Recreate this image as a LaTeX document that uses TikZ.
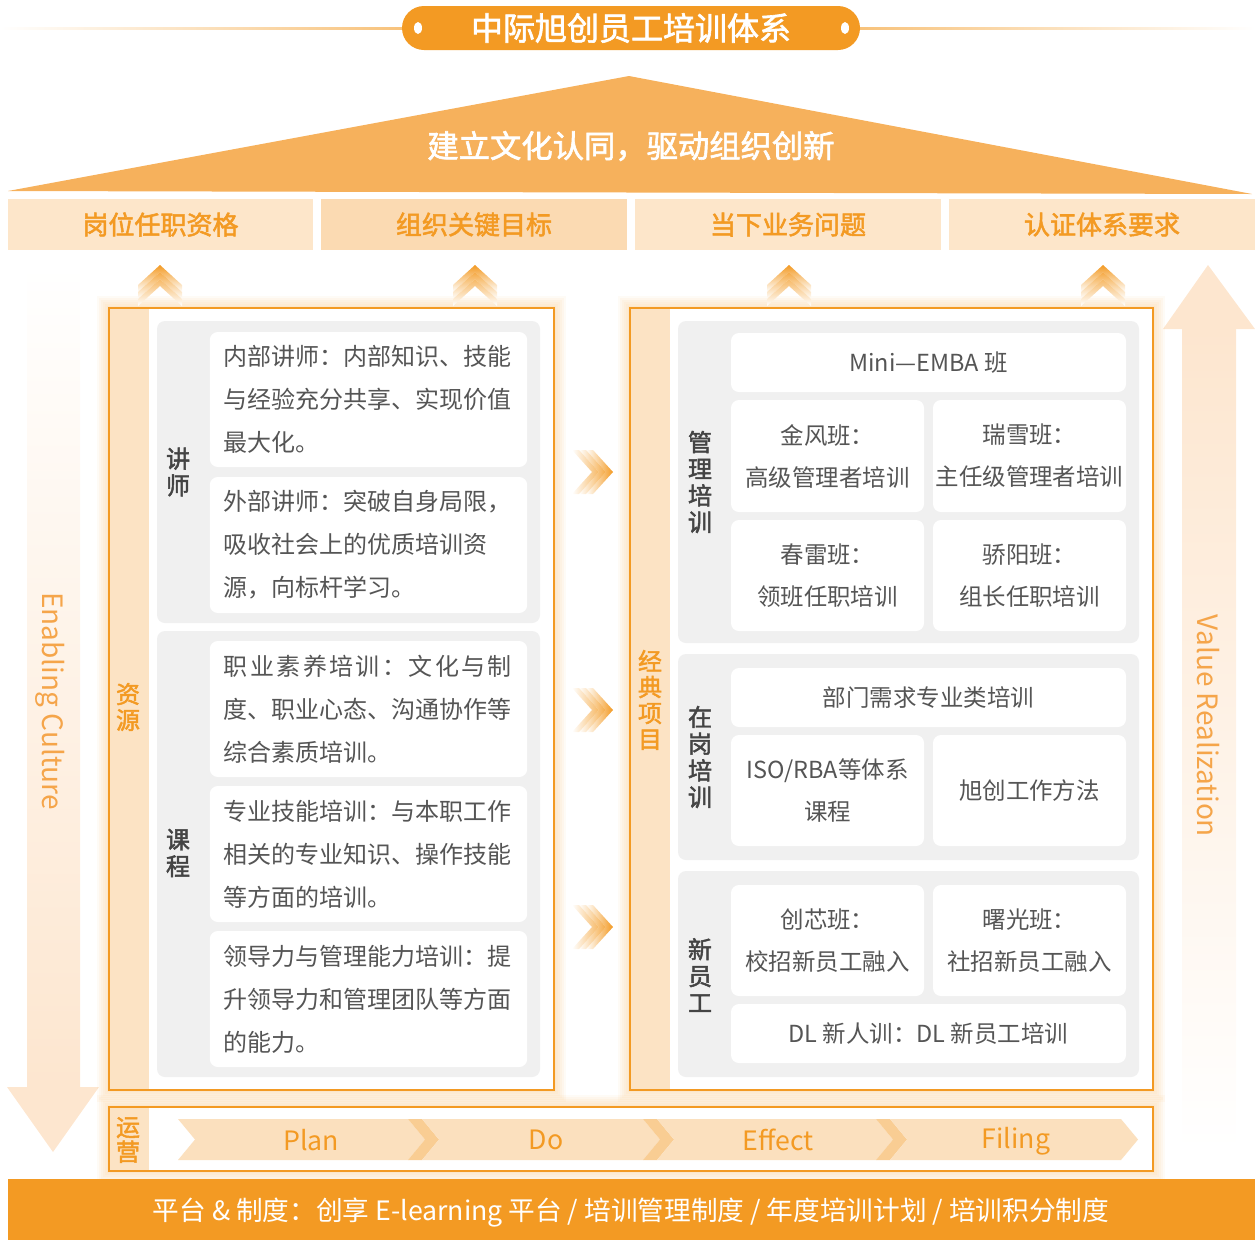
\documentclass[tikz,border=0pt]{standalone}
\usepackage{fontspec}
\setmainfont{Noto Sans CJK SC}
\newfontfamily\hb{Noto Sans CJK SC}[FakeBold=2]
\definecolor{org}{HTML}{F39A23}
\definecolor{orgl}{HTML}{F5A54A}
\definecolor{tri}{HTML}{F6B15C}
\definecolor{pch}{HTML}{FDE6CA}
\definecolor{pchb}{HTML}{FBDAB2}
\definecolor{strip}{HTML}{FCE3C4}
\definecolor{gry}{HTML}{F0F0F0}
\definecolor{txt}{HTML}{555555}
\definecolor{txtd}{HTML}{444444}
\definecolor{arw}{HTML}{FDE6CF}
\definecolor{chv}{HTML}{FBE0BE}
\definecolor{chvd}{HTML}{F9CD93}
\newcommand\bx[7]{%
  \pgfmathsetmacro\bxw{(#4-#2)*0.75}\pgfmathsetmacro\bxh{(#5-#3)*0.75}%
  \node[#6, minimum width=\bxw pt, minimum height=\bxh pt] (#1) at ({(#2+#4)/2},{(#3+#5)/2}) {#7};}
\newcommand\upchev[1]{%
  \foreach \a/\c in {265/org,272/org!85,279/org!70}{%
    \shade[top color=\c, bottom color=white] ({#1-22},{\a+20}) -- (#1,\a) -- ({#1+22},{\a+20}) -- ({#1+22},{\a+27}) -- (#1,{\a+7}) -- ({#1-22},{\a+27}) -- cycle;}}
\newcommand\rtchev[1]{%
  \foreach \a/\c in {613/org,606/org!85,599/org!70}{%
    \shade[right color=\c, left color=white] ({\a-20},{#1-22}) -- (\a,#1) -- ({\a-20},{#1+22}) -- ({\a-27},{#1+22}) -- ({\a-7},#1) -- ({\a-27},{#1-22}) -- cycle;}}
\newcommand\seg[2]{\fill[chv] (#1,1119) -- ({#2-17},1119) -- (#2,1139.5) -- ({#2-17},1160) -- (#1,1160) -- ({#1+17},1139.5) -- cycle;}
\newcommand\stripe[1]{\fill[chvd] ({#1-17},1119) -- ({#1-3},1119) -- ({#1+14},1139.5) -- ({#1-3},1160) -- ({#1-17},1160) -- (#1,1139.5) -- cycle;}
\newcommand\glow[4]{\foreach \w in {3,6,9,12,15,18}{\draw[org, opacity=0.045, line width=\w pt] (#1,#2) rectangle (#3,#4);}}
\begin{document}
\begin{tikzpicture}[x=0.75pt,y=-0.75pt,
  hdr/.style={fill=pch, text=org, font=\hb\fontsize{19.5}{22}\selectfont, inner sep=0, outer sep=0},
  grp/.style={fill=gry, rounded corners=6pt, inner sep=0},
  wbox/.style={fill=white, rounded corners=6pt, text=txt, font=\fontsize{17.6}{31.5}\selectfont, align=center, inner sep=0},
  lbox/.style={fill=white, rounded corners=6pt, text=txt, font=\fontsize{18}{32.25}\selectfont, align=left, text width=217pt, inner xsep=10.5pt, inner ysep=0},
  vlab/.style={text=txtd, font=\hb\fontsize{18}{20}\selectfont, align=center, inner sep=0},
  olab/.style={text=org, font=\hb\fontsize{18}{19.5}\selectfont, align=center, inner sep=0},
  stripbox/.style={fill=strip, inner sep=0},
  panel/.style={draw=org, line width=1.2pt, fill=white, inner sep=0},
  chtxt/.style={text=org, font=\fontsize{20}{24}\selectfont, inner sep=0},
  bigtxt/.style={text=orgl, font=\fontsize{21}{24}\selectfont, inner sep=0}]
\useasboundingbox (0,0) rectangle (1255,1240);
% ---- title line and pill
\shade[left color=white, right color=org!60] (0,27) rectangle (402,29);
\shade[left color=org!60, right color=white] (860,27) rectangle (1255,29);
\bx{title}{402}{6}{860}{50}{fill=org, rounded corners=16.5pt, text=white, font=\hb\fontsize{24}{26}\selectfont, inner sep=0}{中际旭创员工培训体系}
\fill[white] (418,28) ellipse [x radius=4, y radius=6];
\fill[white] (845,28) ellipse [x radius=4, y radius=6];
% ---- roof
\fill[tri] (629,76) -- (1252,194) -- (8,191) -- cycle;
\node[text=white, font=\hb\fontsize{23.5}{26}\selectfont, inner sep=0] (roof) at (631,146) {建立文化认同，驱动组织创新};
% ---- headers
\bx{h1}{8}{199}{313}{250}{hdr}{岗位任职资格}
\bx{h2}{321}{199}{627}{250}{hdr, fill=pchb}{组织关键目标}
\bx{h3}{635}{199}{941}{250}{hdr}{当下业务问题}
\bx{h4}{949}{199}{1255}{250}{hdr}{认证体系要求}
% ---- big arrows
\shade[top color=white, bottom color=arw] (27,265) rectangle (80,1088);
\fill[arw] (7,1087) -- (99,1087) -- (53,1152) -- cycle;
\node[bigtxt, rotate=-90] (enab) at (50,701) {Enabling Culture};
\fill[arw] (1208,265) -- (1255,329) -- (1163,329) -- cycle;
\shade[top color=arw, bottom color=white] (1182,328) rectangle (1236,1150);
\node[bigtxt, rotate=-90] (valr) at (1208,726) {Value Realization};
% ---- glows
\glow{109}{308}{554}{1090}
\glow{630}{308}{1153}{1090}
\glow{109}{1107}{1153}{1171}
% ---- small up chevrons
\upchev{160}\upchev{475}\upchev{789}\upchev{1103}
% ---- left panel
\bx{lp}{109}{308}{554}{1090}{panel}{}
\bx{ls}{110}{309}{149}{1089}{stripbox}{}
\node[olab] (zy) at (128,707) {资\\源};
\bx{g1}{157}{321}{540}{623}{grp}{}
\node[vlab] (js) at (178,472) {讲\\师};
\bx{la}{210}{332}{527}{467}{lbox}{内部讲师：内部知识、技能\\与经验充分共享、实现价值\\最大化。}
\bx{lb}{210}{477}{527}{613}{lbox}{外部讲师：突破自身局限，\\吸收社会上的优质培训资\\源，向标杆学习。}
\bx{g2}{157}{631}{540}{1077}{grp}{}
\node[vlab] (kc) at (178,853) {课\\程};
\bx{lc}{210}{641}{527}{777}{lbox}{\hbox to 216pt{职\hfil 业\hfil 素\hfil 养\hfil 培\hfil 训\hfil ：\hfil 文\hfil 化\hfil 与\hfil 制}\\度、职业心态、沟通协作等\\综合素质培训。}
\bx{ld}{210}{786}{527}{922}{lbox}{专业技能培训：与本职工作\\相关的专业知识、操作技能\\等方面的培训。}
\bx{le}{210}{931}{527}{1067}{lbox}{领导力与管理能力培训：提\\升领导力和管理团队等方面\\的能力。}
% ---- middle chevrons
\rtchev{472}\rtchev{710}\rtchev{927}
% ---- right panel
\bx{rp}{630}{308}{1153}{1090}{panel}{}
\bx{rs}{631}{309}{670}{1089}{stripbox}{}
\node[olab, font=\hb\fontsize{18}{19.5}\selectfont] (jd) at (650,700) {经\\典\\项\\目};
\bx{r1}{678}{321}{1139}{643}{grp}{}
\node[vlab] (gl) at (700,482) {管\\理\\培\\训};
\bx{emba}{731}{333}{1126}{392}{wbox}{Mini—EMBA 班}
\bx{jf}{731}{400}{924}{512}{wbox}{金风班：\\高级管理者培训}
\bx{rx}{933}{400}{1126}{512}{wbox}{瑞雪班：\\主任级管理者培训}
\bx{cl}{731}{520}{924}{631}{wbox}{春雷班：\\领班任职培训}
\bx{jy}{933}{520}{1126}{631}{wbox}{骄阳班：\\组长任职培训}
\bx{r2}{678}{654}{1139}{860}{grp}{}
\node[vlab] (zg) at (700,757) {在\\岗\\培\\训};
\bx{bm}{731}{668}{1126}{727}{wbox}{部门需求专业类培训}
\bx{iso}{731}{735}{924}{846}{wbox}{ISO/RBA等体系\\课程}
\bx{xc}{933}{735}{1126}{846}{wbox}{旭创工作方法}
\bx{r3}{678}{871}{1139}{1077}{grp}{}
\node[vlab] (xy) at (700,975) {新\\员\\工};
\bx{cx}{731}{885}{924}{996}{wbox}{创芯班：\\校招新员工融入}
\bx{sg}{933}{885}{1126}{996}{wbox}{曙光班：\\社招新员工融入}
\bx{dl}{731}{1004}{1126}{1063}{wbox}{DL 新人训：DL 新员工培训}
% ---- operations bar
\bx{ob}{109}{1107}{1153}{1171}{panel}{}
\bx{os}{110}{1108}{149}{1170}{stripbox}{}
\node[olab, font=\hb\fontsize{18}{18.5}\selectfont] (yy) at (128,1140) {运\\营};
\seg{178}{425}\stripe{425}
\seg{422}{660}\stripe{660}
\seg{657}{893}\stripe{893}
\seg{890}{1138}
\node[chtxt] (plan) at (311,1140) {Plan};
\node[chtxt] (do) at (546,1140) {Do};
\node[chtxt] (eff) at (778,1140) {Effect};
\node[chtxt] (fil) at (1016,1141) {Filing};
% ---- bottom bar
\bx{base}{8}{1179}{1255}{1240}{fill=org, inner sep=0}{}
\node[text=white, font=\fontsize{20}{22}\selectfont, inner sep=0] (basetxt) at (631,1213) {平台 \& 制度：创享 E-learning 平台 / 培训管理制度 / 年度培训计划 / 培训积分制度};
\end{tikzpicture}
\end{document}
